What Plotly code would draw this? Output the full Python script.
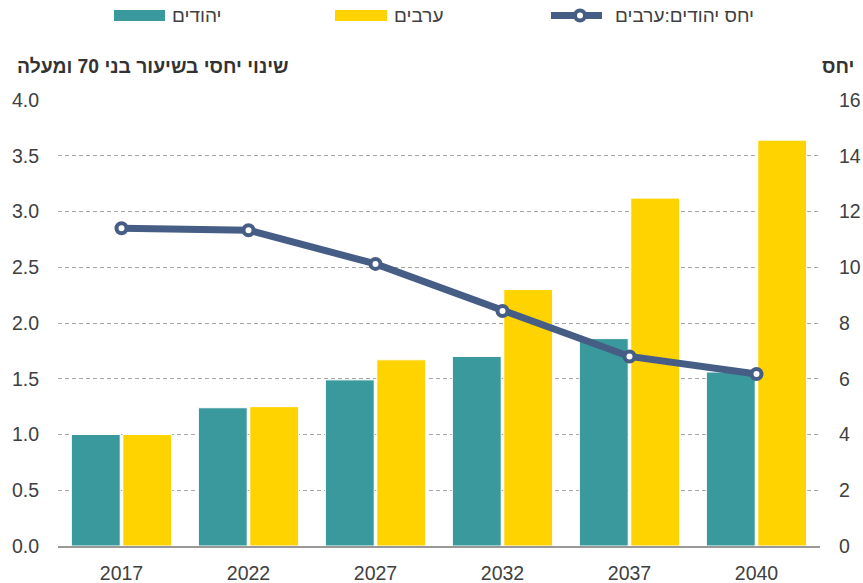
import plotly.graph_objects as go

years = ["2017", "2022", "2027", "2032", "2037", "2040"]
jews = [1.00, 1.24, 1.49, 1.70, 1.86, 1.56]
arabs = [1.00, 1.25, 1.67, 2.30, 3.12, 3.64]
ratio = [11.4, 11.33, 10.12, 8.43, 6.8, 6.17]

left_ticks = [0, 0.5, 1, 1.5, 2, 2.5, 3, 3.5, 4]
left_labels = ["0.0", "0.5", "1.0", "1.5", "2.0", "2.5", "3.0", "3.5", "4.0"]
right_ticks = [0, 2, 4, 6, 8, 10, 12, 14, 16]

TEAL = "#3a999d"
YELLOW = "#ffd300"
NAVY = "#465d86"
TXT = "#404040"
FONT = "Liberation Sans, Arial, sans-serif"

W, H = 863, 583
L, R, T, B = 58, 43, 100, 37
PW, PH = W - L - R, H - T - B

def px(x):
    return (x - L) / PW

def py(y):
    return (H - B - y) / PH

fig = go.Figure()
fig.add_trace(go.Bar(x=years, y=jews, name="יהודים", marker=dict(color=TEAL, line=dict(color="white", width=1)), yaxis="y"))
fig.add_trace(go.Bar(x=years, y=arabs, name="ערבים", marker=dict(color=YELLOW, line=dict(color="white", width=1)), yaxis="y"))
fig.add_trace(go.Scatter(x=years, y=ratio, name="יחס יהודים:ערבים", mode="lines+markers",
                         line=dict(color=NAVY, width=7),
                         marker=dict(size=10, color="white", line=dict(color=NAVY, width=4)),
                         yaxis="y2"))

fig.update_layout(
    width=W, height=H,
    margin=dict(l=L, r=R, t=T, b=B, autoexpand=False),
    paper_bgcolor="white", plot_bgcolor="white",
    showlegend=False,
    barmode="group", bargap=0.19, bargroupgap=0.05,
    font=dict(family=FONT, color=TXT, size=19.5),
    xaxis=dict(type="category", showline=True, linecolor="#999999", linewidth=1.5,
               showgrid=False, ticks="", ticklabelstandoff=9, automargin=False,
               tickfont=dict(size=19.5, color=TXT)),
    yaxis=dict(range=[0, 4], tickvals=left_ticks, ticktext=left_labels,
               showgrid=True, gridcolor="#a6a6a6", griddash="4px,3px", gridwidth=1,
               zeroline=False, showline=False, ticks="", ticklabelstandoff=18, automargin=False,
               tickfont=dict(size=19.5, color=TXT)),
    yaxis2=dict(range=[0, 16], tickvals=right_ticks, overlaying="y", side="right",
                showgrid=False, zeroline=False, showline=False, ticks="", automargin=False,
                ticklabelstandoff=18, tickfont=dict(size=19.5, color=TXT)),
)

annotations = [
    dict(text="<b>שינוי יחסי בשיעור בני 70 ומעלה</b>", x=px(153), y=py(67), xanchor="center", yanchor="middle",
         font=dict(size=19.3, color="#333333")),
    dict(text="<b>יחס</b>", x=px(838), y=py(67), xanchor="center", yanchor="middle",
         font=dict(size=19.3, color="#333333")),
    dict(text="יהודים", x=px(197), y=py(16), xanchor="center", yanchor="middle", font=dict(size=19, color=TXT)),
    dict(text="ערבים", x=px(418.5), y=py(16), xanchor="center", yanchor="middle", font=dict(size=19, color=TXT)),
    dict(text="יחס יהודים:ערבים", x=px(684), y=py(16), xanchor="center", yanchor="middle", font=dict(size=19, color=TXT)),
]
for a in annotations:
    a.update(xref="paper", yref="paper", showarrow=False)
fig.update_layout(annotations=annotations)

shapes = [
    dict(type="rect", x0=px(114), x1=px(165), y0=py(10), y1=py(21), fillcolor=TEAL, line=dict(width=0)),
    dict(type="rect", x0=px(335), x1=px(387), y0=py(10), y1=py(21), fillcolor=YELLOW, line=dict(width=0)),
    dict(type="line", x0=px(551), x1=px(602), y0=py(15.5), y1=py(15.5), line=dict(color=NAVY, width=7)),
    dict(type="circle", x0=px(575), x1=px(585), y0=py(10.5), y1=py(20.5), fillcolor="white", line=dict(color=NAVY, width=4)),
]
for s in shapes:
    s.update(xref="paper", yref="paper", layer="above")
fig.update_layout(shapes=shapes)

fig.write_html("out.html", config={"displayModeBar": False},
               post_script="document.body.style.margin='0px';")
